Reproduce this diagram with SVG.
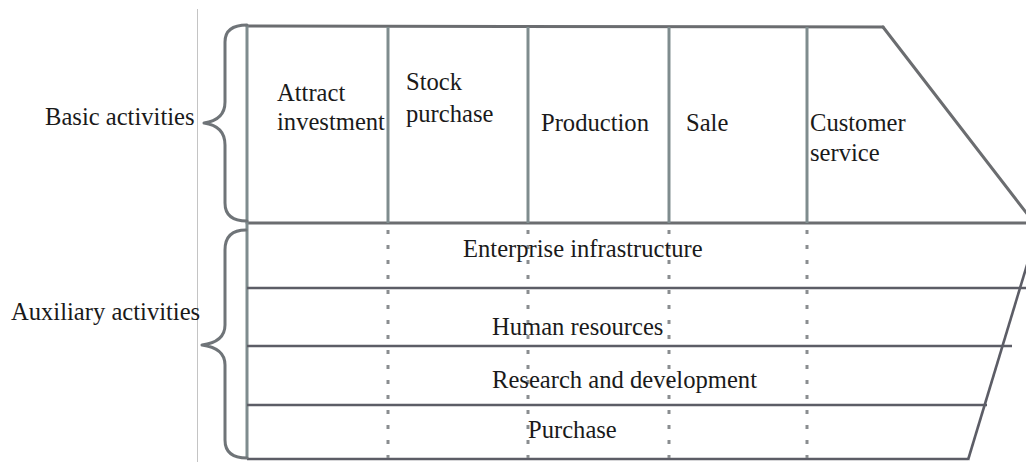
<svg xmlns="http://www.w3.org/2000/svg" width="1026" height="462" viewBox="0 0 1026 462" font-family="'Liberation Serif', 'DejaVu Serif', serif">
  <style>
    text { font-family: 'Liberation Serif', 'DejaVu Serif', serif; font-size: 24.6px; fill: #1a1a1a; }
    .frame { stroke: #6b6d70; stroke-width: 3; fill: none; stroke-linecap: round; }
    .band { stroke: #5c5d66; stroke-width: 2.6; fill: none; }
    .col { stroke: #7f8c8e; stroke-width: 3; fill: none; }
    .dots { stroke: #8a8d90; stroke-width: 3; fill: none; stroke-dasharray: 4 11; }
    .brace { stroke: #6f7478; stroke-width: 3; fill: none; stroke-linecap: round; stroke-linejoin: round; }
    .rule { stroke: #c4c4c4; stroke-width: 1; }
  </style>

  <rect width="1026" height="462" fill="#ffffff"/>

  <!-- thin margin rule beside the side labels -->
  <line class="rule" x1="197.5" y1="9" x2="197.5" y2="462"/>

  <g id="connectors">
    <!-- outer frame of the value chain -->
    <line class="frame" x1="247" y1="26" x2="883" y2="27"/>
    <line class="frame" x1="883" y1="27" x2="1028" y2="215"/>
    <line class="frame" x1="247" y1="223" x2="1026" y2="223"/>
    <line class="col" x1="247" y1="25" x2="247" y2="459"/>
    <!-- auxiliary bands -->
    <line class="band" x1="247" y1="288" x2="1026" y2="288"/>
    <line class="band" x1="247" y1="346" x2="1012" y2="346"/>
    <line class="band" x1="247" y1="405" x2="987" y2="405"/>
    <line class="band" x1="247" y1="459" x2="968" y2="459"/>
    <line class="band" x1="1030" y1="255" x2="968" y2="460"/>
    <!-- column dividers for basic activities -->
    <line class="col" x1="388" y1="27" x2="388" y2="223"/>
    <line class="col" x1="528" y1="27" x2="528" y2="223"/>
    <line class="col" x1="669" y1="27" x2="669" y2="223"/>
    <line class="col" x1="807" y1="27" x2="807" y2="223"/>
    <!-- dotted continuations through the auxiliary bands -->
    <line class="dots" x1="388" y1="230" x2="388" y2="458"/>
    <line class="dots" x1="528" y1="230" x2="528" y2="458"/>
    <line class="dots" x1="669" y1="230" x2="669" y2="458"/>
    <line class="dots" x1="807" y1="230" x2="807" y2="458"/>
    <!-- braces -->
    <path class="brace" d="M247 25 Q225 25 225 42 L225 102 Q225 120 204 123 Q225 126 225 145 L225 203 Q225 221 247 221"/>
    <path class="brace" d="M246 230 Q225 230 225 250 L225 325 Q225 342 202 345 Q225 348 225 365 L225 440 Q225 458 247 458"/>
  </g>

  <g id="basic-label"><text x="45" y="125">Basic activities</text></g>
  <g id="auxiliary-label"><text x="11" y="320">Auxiliary activities</text></g>

  <g id="attract-investment"><text x="277" y="101">Attract</text><text x="277" y="130">investment</text></g>
  <g id="stock-purchase"><text x="406" y="90">Stock</text><text x="406" y="122">purchase</text></g>
  <g id="production"><text x="541" y="131">Production</text></g>
  <g id="sale"><text x="686" y="131">Sale</text></g>
  <g id="customer-service"><text x="810" y="131">Customer</text><text x="810" y="161">service</text></g>

  <g id="enterprise-infrastructure"><text x="463" y="257">Enterprise infrastructure</text></g>
  <g id="human-resources"><text x="492" y="335">Human resources</text></g>
  <g id="research-development"><text x="492" y="388">Research and development</text></g>
  <g id="purchase"><text x="528" y="438">Purchase</text></g>
</svg>
